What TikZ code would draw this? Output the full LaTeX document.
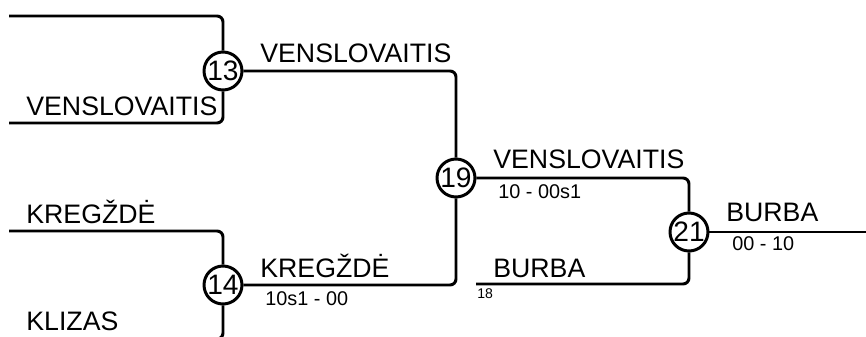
\documentclass[tikz,border=0pt]{standalone}
\usepackage{fontspec}
\setmainfont{Liberation Sans}
\begin{document}
\begin{tikzpicture}[x=0.02cm, y=0.02cm,
    game/.style={draw, circle, line width=1.7pt, fill=white, minimum size=0.76cm, inner sep=0pt, font=\fontsize{16}{16}\selectfont},
    player/.style={anchor=base west, inner sep=0pt, font=\fontsize{15.2}{15}\selectfont},
    score/.style={anchor=base west, inner sep=0pt, font=\fontsize{11.3}{12}\selectfont},
    wire/.style={line width=1.7pt, rounded corners=0.12cm}]
    \useasboundingbox (0,0) rectangle (866,336);
    \node [game] (m13) at (223,265) {13};
    \node [game] (m14) at (223,51) {14};
    \node [game] (m19) at (456,158) {19};
    \node [game] (m21) at (689,104) {21};
    \coordinate (in13a) at (9,320);
    \coordinate (in13b) at (9,213);
    \coordinate (in14a) at (9,105);
    \coordinate (in14b) at (9,-3);
    \coordinate (in18) at (476,52);
    \coordinate (out21) at (870,104);
    \draw [wire] (in13a) -| (m13);
    \draw [wire] (in13b) -| (m13);
    \draw [wire] (in14a) -| (m14);
    \draw [wire] (in14b) -| (m14);
    \draw [wire] (m13) -| (m19);
    \draw [wire] (m14) -| (m19);
    \draw [wire] (m19) -| (m21);
    \draw [wire] (in18) -| (m21);
    \draw [wire] (m21) -- (out21);
    \node [player] (p13b) at (26,221) {VENSLOVAITIS};
    \node [player] (p14a) at (26,113) {KREGŽDĖ};
    \node [player] (p14b) at (26,6) {KLIZAS};
    \node [player] (w13) at (260,274) {VENSLOVAITIS};
    \node [player] (w14) at (260,59) {KREGŽDĖ};
    \node [score] (s14) at (265,31) {10s1 - 00};
    \node [player] (w19) at (493,168) {VENSLOVAITIS};
    \node [score] (s19) at (498,138) {10 - 00s1};
    \node [player] (p18) at (493,59) {BURBA};
    \node [score, font=\fontsize{8}{8}\selectfont] (n18) at (477,38) {18};
    \node [player] (w21) at (726,115) {BURBA};
    \node [score] (s21) at (732,86) {00 - 10};
\end{tikzpicture}
\end{document}
